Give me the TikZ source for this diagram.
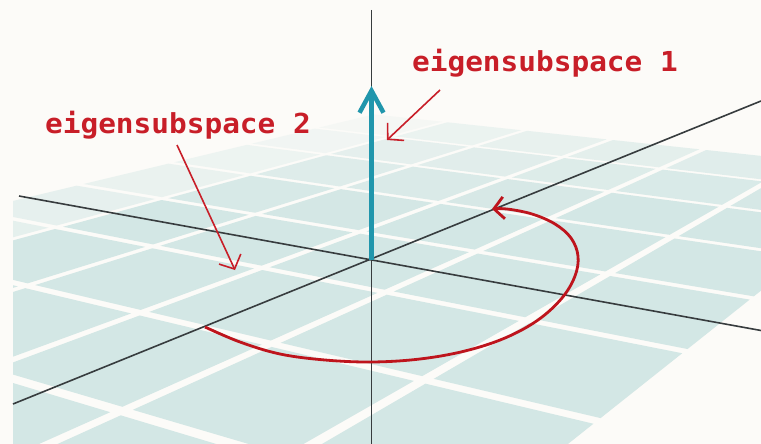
\documentclass[tikz,border=0pt]{standalone}
\usepackage{fontspec}
\newfontfamily\monolab{DejaVu Sans Mono}[FakeStretch=1.07]
\usetikzlibrary{arrows.meta}
\definecolor{bgc}{RGB}{252,251,248}
\definecolor{cellc}{RGB}{211,231,229}
\definecolor{axisc}{RGB}{55,60,62}
\definecolor{tealc}{RGB}{32,150,172}
\definecolor{redc}{RGB}{200,30,40}
\definecolor{arcc}{RGB}{190,20,28}
\def\pSA{-0.06153}
\def\pSB{0.10747}
\def\pVAx{-1580.6}
\def\pVAy{-95}
\def\pVBx{1246.8}
\def\pVBy{-95}
\def\pOx{371.5}
\def\pOy{259.5}
\def\hh{0.465}
\begin{document}
\begin{tikzpicture}[x=1pt,y=-1pt,
  declare function={
    pw(\x,\y)=1+\x*\pSA+\y*\pSB;
    px(\x,\y)=(\pOx+\x*\pSA*\pVAx+\y*\pSB*\pVBx)/pw(\x,\y);
    py(\x,\y)=(\pOy+\x*\pSA*\pVAy+\y*\pSB*\pVBy)/pw(\x,\y);
  },
  axisline/.style={draw=axisc, line width=1.6pt},
  lab/.style={text=redc, font=\monolab\bfseries\fontsize{27.5}{30}\selectfont, inner sep=0pt},
  pointer/.style={draw=redc, line width=1.6pt, -{Straight Barb[length=11pt,width=24pt]}},
]
\useasboundingbox (0,0) rectangle (761,444);
\fill[bgc] (0,0) rectangle (761,444);
% plane cells
\begin{scope}
\clip (13,0) rectangle (761,444);
\foreach \i in {-3,...,2}{
  \foreach \j in {-6,...,4}{
    \pgfmathsetmacro{\ww}{pw(\i,\j)}
    \pgfmathsetmacro{\op}{max(0.3,min(1,1-(\ww-1.15)*1.5))*(\i==-3 ? 0.55 : 1)}
    \fill[cellc, fill opacity=\op]
      ({px(\i-\hh,\j-\hh)},{py(\i-\hh,\j-\hh)}) --
      ({px(\i+\hh,\j-\hh)},{py(\i+\hh,\j-\hh)}) --
      ({px(\i+\hh,\j+\hh)},{py(\i+\hh,\j+\hh)}) --
      ({px(\i-\hh,\j+\hh)},{py(\i-\hh,\j+\hh)}) -- cycle;
  }
}
\end{scope}
% coordinates
\coordinate (O) at (371.5,259.5);
\coordinate (ztop) at (371.5,10);
\coordinate (zbot) at (371.5,444);
\coordinate (aL) at (19,196);
\coordinate (aR) at (761,330.5);
\coordinate (bL) at (13,404);
\coordinate (bR) at (761,101);
\coordinate (vtip) at (371.5,86);
% axes
\draw[axisline] (ztop) -- (zbot);
\draw[axisline] (aL) -- (aR);
\draw[axisline] (bL) -- (bR);
% eigenvector
\draw[draw=tealc, line width=4.5pt, -{Straight Barb[length=22pt,width=24pt]}] (O) -- (vtip);
% rotation arc
\draw[draw=arcc, line width=2.8pt, -{Straight Barb[length=10pt,width=22pt]}]
  plot[smooth, tension=0.6] coordinates {(205,327) (240,342) (280,354) (325,360) (372,362) (420,359) (465,351) (505,338) (538,320) (562,298) (575,276) (578,256) (571,238) (555,224) (532,214) (507,209) (492,209)};
% labels
\node[lab, anchor=base] (l1) at (545,72) {eigensubspace 1};
\node[lab, anchor=base] (l2) at (178,133) {eigensubspace 2};
\coordinate (p1s) at (440,90);
\coordinate (p1e) at (387,140);
\coordinate (p2s) at (177,145);
\coordinate (p2e) at (235,270);
\draw[pointer] (p1s) -- (p1e);
\draw[pointer] (p2s) -- (p2e);
\end{tikzpicture}
\end{document}
